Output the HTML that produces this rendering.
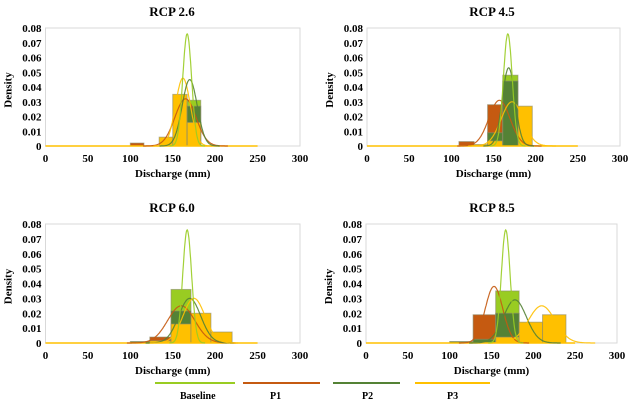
<!DOCTYPE html>
<html><head><meta charset="utf-8"><style>
body{margin:0;background:#fff;}
svg{display:block;font-family:"Liberation Serif",serif;font-weight:bold;}
</style></head><body>
<svg id="s" width="630" height="406" xmlns="http://www.w3.org/2000/svg"></svg>
<script>
const C={b:"#99cc22",p1:"#c55a11",p2:"#548235",p3:"#ffc000"};
const panels=[
 {t:"RCP 2.6",x0:45.5,x1:300,y0:146,y1:28,tx:172,
  bars:[[100,116,0.002,"p1"],[134,150,0.006,"p3"],[150,167,0.035,"p3"],[167,183,0.031,"b"],[167,183,0.027,"p2"],[167,183,0.016,"p3"]],
  cur:[["p1",165,12.5,0.032],["p3",162,8.7,0.046],["p2",170,8.9,0.045],["b",167,5.25,0.076]]},
 {t:"RCP 4.5",x0:367,x1:620,y0:146,y1:28,tx:492,
  bars:[[109,127,0.003,"p1"],[127,143,0.001,"p3"],[143,161,0.028,"p1"],[143,161,0.009,"p2"],[143,161,0.0035,"p3"],[161,196,0.027,"p3"],[161,179,0.048,"b"],[161,179,0.044,"p2"]],
  cur:[["p1",157,12.5,0.031],["p3",172,13,0.03],["p2",168,7.5,0.053],["b",167,5.25,0.076]]},
 {t:"RCP 6.0",x0:45.5,x1:300,y0:343,y1:224,tx:172,
  bars:[[100,123,0.001,"p2"],[123,148,0.004,"p1"],[123,148,0.0015,"p3"],[148,171.5,0.036,"b"],[148,171.5,0.0215,"p2"],[148,171.5,0.0128,"p3"],[171.5,195,0.020,"p3"],[195,220,0.0074,"p3"]],
  cur:[["p1",160,16,0.025],["p2",170,13,0.03],["p3",175,13,0.03],["b",167,5.25,0.076]]},
 {t:"RCP 8.5",x0:366,x1:617,y0:343,y1:224,tx:492,
  bars:[[100,128,0.001,"p2"],[128,155,0.019,"p1"],[128,155,0.0025,"p2"],[155,183,0.035,"b"],[155,183,0.02,"p2"],[155,183,0.004,"p3"],[183,211,0.014,"p3"],[211,239,0.019,"p3"]],
  cur:[["p1",153,10.5,0.038],["p2",178,13.7,0.029],["p3",210,16,0.025],["b",167,5.25,0.076]]}
];
let h="";
for(const p of panels){
 const X=v=>p.x0+(p.x1-p.x0)*v/300, Y=v=>p.y0-(p.y0-p.y1)*v/0.08;
 h+=`<rect x="${p.x0}" y="${p.y1}" width="${p.x1-p.x0}" height="${p.y0-p.y1}" fill="none" stroke="#d9d9d9" stroke-width="1"/>`;
 h+=`<text x="${p.tx}" y="${p.y1-12}" font-size="13" text-anchor="middle">${p.t}</text>`;
 for(let i=0;i<=8;i++){h+=`<text x="${p.x0-4}" y="${Y(i/100)+4}" font-size="11" text-anchor="end">${i==0?"0":(i/100).toFixed(2)}</text>`;}
 for(let i=0;i<=6;i++){h+=`<text x="${X(i*50)}" y="${p.y0+16}" font-size="11" text-anchor="middle">${i*50}</text>`;}
 h+=`<text x="${(p.x0+p.x1)/2}" y="${p.y0+31}" font-size="11" text-anchor="middle">Discharge (mm)</text>`;
 h+=`<text transform="translate(${p.x0-34},${(p.y0+p.y1)/2+3}) rotate(-90)" font-size="11" text-anchor="middle">Density</text>`;
 for(const b of p.bars){h+=`<rect x="${X(b[0])}" y="${Y(b[2])}" width="${X(b[1])-X(b[0])}" height="${Y(0)-Y(b[2])}" fill="${C[b[3]]}" stroke="#8a8a6a" stroke-opacity="0.6" stroke-width="1"/>`;}
 h+=`<line x1="${X(0)}" y1="${p.y0}" x2="${X(250)}" y2="${p.y0}" stroke="${C.p3}" stroke-width="1.5"/>`;
 for(const c of p.cur){let d="";for(let x=c[1]-4*c[2];x<=c[1]+4*c[2];x+=0.5){const v=c[3]*Math.exp(-((x-c[1])**2)/(2*c[2]*c[2]));d+=(d?"L":"M")+X(x).toFixed(1)+","+Y(v).toFixed(1);}
  h+=`<path d="${d}" fill="none" stroke="${C[c[0]]}" stroke-width="1.2" opacity="0.9"/>`;}
}
const leg=[["Baseline",155,235,"b",180],["P1",243,320,"p1",270],["P2",333,400,"p2",362],["P3",415,490,"p3",447]];
for(const l of leg){h+=`<line x1="${l[1]}" y1="383" x2="${l[2]}" y2="383" stroke="${C[l[3]]}" stroke-width="2"/><text x="${l[4]}" y="399" font-size="10">${l[0]}</text>`;}
document.getElementById("s").innerHTML=h;
</script>
</body></html>
